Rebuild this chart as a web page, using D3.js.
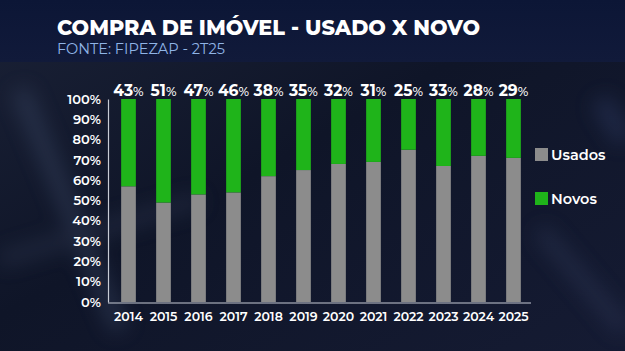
<!DOCTYPE html>
<html>
<head>
<meta charset="utf-8">
<script src="https://cdn.jsdelivr.net/npm/d3@7"></script>
<style>
  html, body { margin: 0; padding: 0; background: #10162a; }
  svg { display: block; }
</style>
</head>
<body>
<svg id="chart"></svg>
<script>
const years = ['2014', '2015', '2016', '2017', '2018', '2019', '2020', '2021', '2022', '2023', '2024', '2025'];
const novos = [43, 51, 47, 46, 38, 35, 32, 31, 25, 33, 28, 29];
const usados = [57, 49, 53, 54, 62, 65, 68, 69, 75, 67, 72, 71];
const yTicks = [0, 10, 20, 30, 40, 50, 60, 70, 80, 90, 100];
const seriesNames = ['Usados', 'Novos'];

const W = 625, H = 351;
const colors = { Usados: '#8c8c8c', Novos: '#1fb41a' };
const font = 'Montserrat, "Open Sans", Lato, sans-serif';

const svg = d3.select('#chart').attr('width', W).attr('height', H);

// background
const defs = svg.append('defs');
const bg = defs.append('linearGradient').attr('id', 'bg')
	.attr('x1', 0).attr('y1', 0).attr('x2', 1).attr('y2', 1);
bg.append('stop').attr('offset', '0%').attr('stop-color', '#1a2136');
bg.append('stop').attr('offset', '45%').attr('stop-color', '#0f1528');
bg.append('stop').attr('offset', '100%').attr('stop-color', '#151b33');
svg.append('rect').attr('width', W).attr('height', H).attr('fill', 'url(#bg)');

const blur = defs.append('filter').attr('id', 'blur').attr('x', '-50%').attr('y', '-50%').attr('width', '200%').attr('height', '200%');
blur.append('feGaussianBlur').attr('stdDeviation', 10);
const streaks = svg.append('g').attr('filter', 'url(#blur)').attr('opacity', 0.35);
streaks.append('path').attr('d', 'M20,90 L120,330').attr('stroke', '#4a5878').attr('stroke-width', 18);
streaks.append('path').attr('d', 'M0,260 L200,200').attr('stroke', '#3c4660').attr('stroke-width', 14);
streaks.append('path').attr('d', 'M600,100 L625,140').attr('stroke', '#3a4a78').attr('stroke-width', 20);
streaks.append('path').attr('d', 'M540,230 L625,330').attr('stroke', '#3a4466').attr('stroke-width', 16);

// header band
const hg = defs.append('linearGradient').attr('id', 'hg').attr('x1', 0).attr('y1', 0).attr('x2', 0).attr('y2', 1);
hg.append('stop').attr('offset', '0%').attr('stop-color', '#0c1636');
hg.append('stop').attr('offset', '100%').attr('stop-color', '#111a3a');
svg.append('rect').attr('width', W).attr('height', 62).attr('fill', 'url(#hg)');

svg.append('text').attr('x', 57).attr('y', 34.5)
	.attr('fill', '#ffffff').attr('font-family', font).attr('font-weight', 800)
	.attr('font-size', 22).attr('textLength', 423).attr('lengthAdjust', 'spacingAndGlyphs')
	.text('COMPRA DE IMÓVEL - USADO X NOVO');
svg.append('text').attr('x', 57).attr('y', 54)
	.attr('fill', '#8fb4e6').attr('font-family', font).attr('font-weight', 400)
	.attr('font-size', 15).attr('textLength', 168).attr('lengthAdjust', 'spacingAndGlyphs')
	.text('FONTE: FIPEZAP - 2T25');

// scales
const x = d3.scaleBand().domain(years).range([111, 531]).paddingInner(0.58).paddingOuter(0.29);
const y = d3.scaleLinear().domain([0, 100]).range([302, 99]);

const rows = years.map((yr, i) => ({ year: yr, Usados: usados[i], Novos: novos[i] }));
const stacked = d3.stack().keys(seriesNames)(rows);

svg.append('g').selectAll('g').data(stacked).join('g')
	.attr('fill', d => colors[d.key])
	.selectAll('rect').data(d => d).join('rect')
		.attr('x', d => x(d.data.year))
		.attr('width', x.bandwidth())
		.attr('y', d => y(d[1]))
		.attr('height', d => y(d[0]) - y(d[1]));

// y axis
const yAxis = svg.append('g').attr('transform', 'translate(108,0)')
	.call(d3.axisLeft(y).tickValues(yTicks).tickSize(0).tickPadding(7).tickFormat(d => d + '%'));
yAxis.select('.domain').attr('stroke', '#c8ccd6').attr('stroke-width', 1.2);
yAxis.selectAll('text').attr('fill', '#ffffff').attr('font-family', font)
	.attr('font-weight', 600).attr('font-size', 13);

// x axis
const xAxis = svg.append('g').attr('transform', 'translate(0,303)')
	.call(d3.axisBottom(x).tickSize(0).tickPadding(9));
xAxis.select('.domain').attr('stroke', '#c8ccd6').attr('stroke-width', 1.2)
	.attr('d', 'M108,0H531');
xAxis.selectAll('text').attr('fill', '#ffffff').attr('font-family', font)
	.attr('font-weight', 600).attr('font-size', 12.5);

// value labels on top
const labels = svg.append('g').selectAll('text').data(rows).join('text')
	.attr('x', d => x(d.year) + x.bandwidth() / 2)
	.attr('y', 96)
	.attr('text-anchor', 'middle')
	.attr('fill', '#ffffff').attr('font-family', font).attr('font-weight', 700);
labels.append('tspan').attr('font-size', 15.5).text(d => d.Novos);
labels.append('tspan').attr('font-size', 12.5).attr('font-weight', 500).text('%');

// legend
const legend = svg.append('g').selectAll('g').data(seriesNames).join('g')
	.attr('transform', (d, i) => `translate(535,${148 + i * 44})`);
legend.append('rect').attr('width', 13).attr('height', 13).attr('fill', d => colors[d]);
legend.append('text').attr('x', 16).attr('y', 11.5)
	.attr('fill', '#ffffff').attr('font-family', font).attr('font-weight', 600)
	.attr('font-size', 14.5).text(d => d);
</script>
</body>
</html>
